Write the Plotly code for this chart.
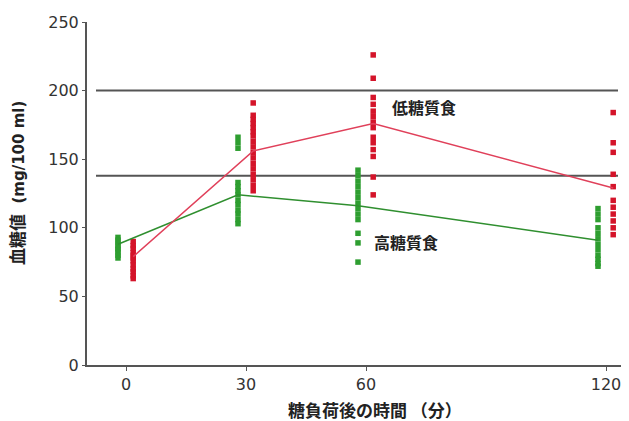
import plotly.graph_objects as go

times = [0, 30, 60, 120]
tick_labels = ["0", "30", "60", "120"]
y_ticks = [0, 50, 100, 150, 200, 250]

# individual values (mg/100 ml)
high_carb_points = [
    [93, 91, 89, 87, 85, 84, 82, 80, 78],
    [166, 162, 158, 133, 130, 127, 124, 120, 117, 113, 110, 106, 103],
    [142, 138, 134, 130, 126, 122, 118, 114, 110, 106, 96, 89, 75],
    [114, 110, 106, 100, 96, 92, 88, 84, 80, 77, 74, 72],
]
low_carb_points = [
    [90, 87, 85, 82, 80, 78, 76, 73, 70, 68, 65, 63],
    [191, 182, 179, 176, 173, 170, 167, 163, 159, 155, 151, 147, 143, 139, 135, 131, 127],
    [226, 209, 195, 190, 185, 181, 177, 173, 166, 162, 157, 152, 137, 124],
    [184, 162, 155, 139, 130, 120, 115, 110, 105, 100, 95],
]
high_carb_mean = [88, 124, 116, 91]
low_carb_mean = [79, 156, 176, 129]
ref_levels = [200, 138]

labels = ["低糖質食", "高糖質食"]
label_pos_x = [74.5, 70]
label_pos_y = [188, 90]

x_title = "糖負荷後の時間 （分）"
y_title_cjk = "血糖値"
y_title_unit = "(mg/100 ml)"

GREEN = "#2e9e30"
RED = "#d4142a"
GREEN_LINE = "#2f8f2f"
RED_LINE = "#e0405a"
AXIS = "#555555"
OFF_G = -2.0
OFF_R = 1.8
CJK = "Noto Sans CJK JP"
MIX = "DejaVu Sans, Noto Sans CJK JP"

fig = go.Figure()


def flat(ts, pts, off):
    xs, ys = [], []
    for t, p in zip(ts, pts):
        for v in p:
            xs.append(t + off)
            ys.append(v)
    return xs, ys


# reference lines
for lvl in ref_levels:
    fig.add_shape(type="line", xref="x", yref="y", x0=-7.5, x1=123, y0=lvl, y1=lvl,
                  line=dict(color=AXIS, width=2), layer="below")

xg, yg = flat(times, high_carb_points, OFF_G)
xr, yr = flat(times, low_carb_points, OFF_R)

fig.add_trace(go.Scatter(x=xg, y=yg, mode="markers",
                         marker=dict(symbol="square", size=5.5, color=GREEN), showlegend=False))
fig.add_trace(go.Scatter(x=xr, y=yr, mode="markers",
                         marker=dict(symbol="square", size=5.5, color=RED), showlegend=False))
fig.add_trace(go.Scatter(x=[t + OFF_G for t in times], y=high_carb_mean, mode="lines",
                         line=dict(color=GREEN_LINE, width=1.5), showlegend=False))
fig.add_trace(go.Scatter(x=[t + OFF_R for t in times], y=low_carb_mean, mode="lines",
                         line=dict(color=RED_LINE, width=1.5), showlegend=False))

for txt, lx, ly in zip(labels, label_pos_x, label_pos_y):
    fig.add_annotation(x=lx, y=ly, text="<b>" + txt + "</b>", showarrow=False,
                       font=dict(family=CJK, size=16, color="#222222"))

fig.add_annotation(xref="paper", yref="paper", x=0.535, y=-0.131, text="<b>" + x_title + "</b>",
                   showarrow=False, xanchor="center", yanchor="middle",
                   font=dict(family=CJK, size=17, color="#222222"))
fig.add_annotation(xref="paper", yref="paper", x=-0.128, y=0.531,
                   text="<b><span style='font-size:17px'>" + y_title_cjk + "</span>  " + y_title_unit + "</b>",
                   showarrow=False, xanchor="center", yanchor="middle", textangle=-90,
                   font=dict(family=MIX, size=15, color="#222222"))

# page body has an 8px margin: figure is shrunk so the plot lands where the reference has it
fig.update_layout(
    width=621, height=413,
    margin=dict(l=79, r=4, t=14, b=56),
    paper_bgcolor="white", plot_bgcolor="white",
    font=dict(family="DejaVu Sans", size=16, color="#333333"),
    xaxis=dict(range=[-9.75, 124.75], tickvals=times, ticktext=tick_labels,
               automargin=False,
               showgrid=False, zeroline=False, showline=True, linecolor=AXIS,
               linewidth=2, ticks="outside", ticklen=4, tickcolor=AXIS),
    yaxis=dict(range=[0, 250], tickvals=y_ticks, automargin=False,
               showgrid=False, zeroline=False, showline=True, linecolor=AXIS,
               linewidth=2, ticks="outside", ticklen=3, tickcolor=AXIS),
)

fig.write_html("out.html")
